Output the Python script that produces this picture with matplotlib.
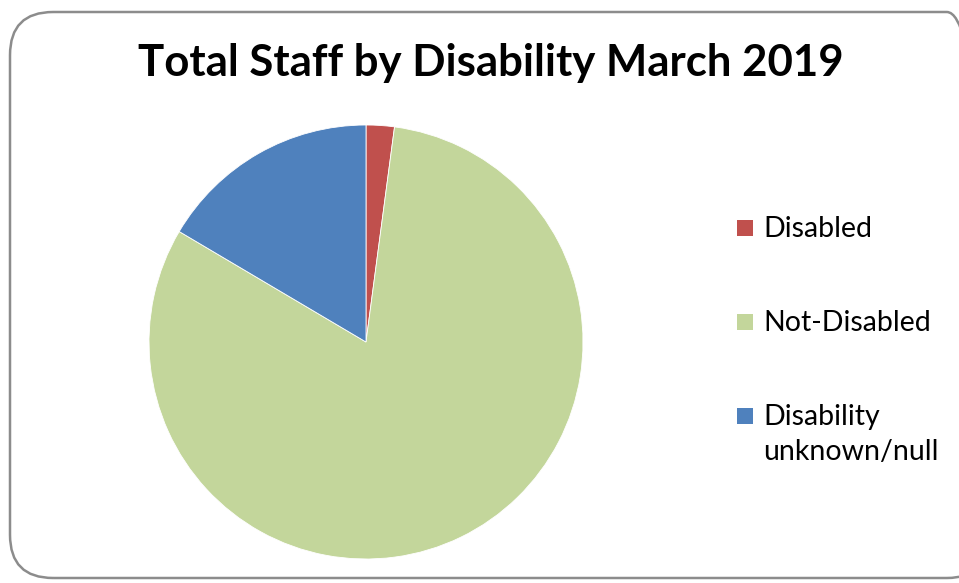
import matplotlib
matplotlib.use("Agg")
import matplotlib.pyplot as plt
from matplotlib.patches import FancyBboxPatch, Rectangle

categories = ["Disabled", "Not-Disabled", "Disability\nunknown/null"]
values = [2.1, 81.4, 16.5]
colors = ["#C0504D", "#C3D69B", "#4F81BD"]
title = "Total Staff by Disability March 2019"

plt.rcParams['font.family'] = ['Lato', 'DejaVu Sans']

W, H = 959, 583
fig = plt.figure(figsize=(W / 100, H / 100), dpi=100)
fig.patch.set_facecolor("white")

# rounded frame
frame = FancyBboxPatch((10 / W, 1 - 578 / H), (990 - 10) / W, (578 - 12) / H,
                       boxstyle="round,pad=0,rounding_size=0.045",
                       transform=fig.transFigure, facecolor="none",
                       edgecolor="#8c8c8c", linewidth=1.8, zorder=-1,
                       mutation_aspect=W / H)
fig.patches.append(frame)

# pie: center (366, 342), r 217
cx, cy, r = 366, 342, 217
ax = fig.add_axes([(cx - r) / W, 1 - (cy + r) / H, 2 * r / W, 2 * r / H])
ax.pie(values, colors=colors, startangle=90, counterclock=False,
       wedgeprops=dict(edgecolor="white", linewidth=0.6))
ax.set_aspect("equal")
ax.set_xlim(-1, 1)
ax.set_ylim(-1, 1)

fig.text(491 / W, 1 - 63 / H, title, ha="center", va="center",
         fontsize=31.5, fontweight="bold", color="black")

# legend (manual, Excel-like: swatch aligned with first text line)
row_y = [228, 322, 416]
for lab, col, y in zip(categories, colors, row_y):
    fig.patches.append(Rectangle((737 / W, 1 - (y + 8) / H), 16 / W, 16 / H,
                                 transform=fig.transFigure, facecolor=col,
                                 edgecolor="none"))
    fig.text(763 / W, 1 - (y - 12) / H, lab, ha="left", va="top",
             fontsize=20.5, color="black", linespacing=1.45)

fig.savefig("out.png", dpi=100, facecolor="white")
